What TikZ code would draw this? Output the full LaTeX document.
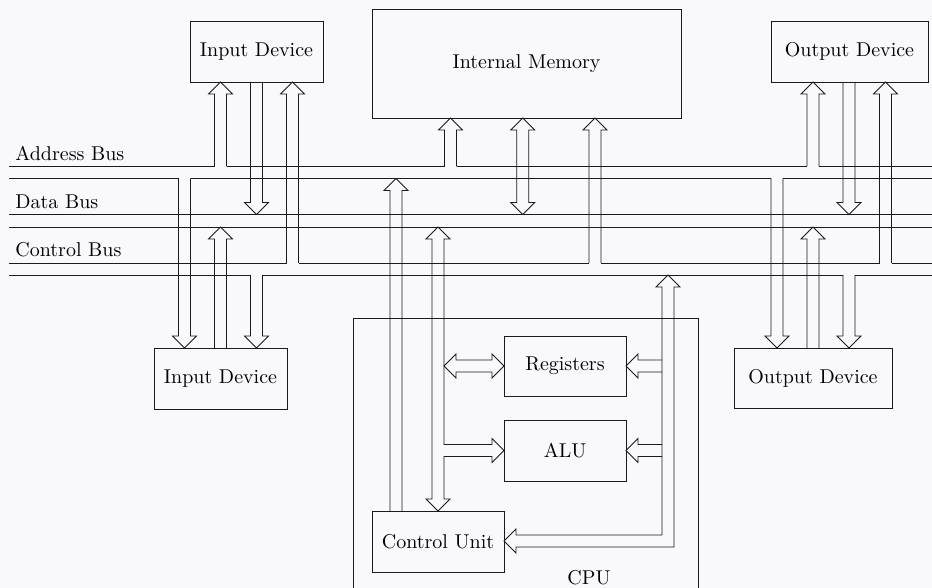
\documentclass[tikz,border=0pt]{standalone}
\usepackage{xcolor}
\definecolor{paper}{HTML}{F8F8FD}
\definecolor{linedark}{HTML}{1A1A1A}
\usepackage{tikz}
\usetikzlibrary{positioning}

% hollow arrows: x, tail y, tip y (y runs downwards)
\newcommand{\hollowup}[3]{%
  \draw (#1-6,#2) -- (#1-6,#3+12) -- (#1-12,#3+12) -- (#1,#3) -- (#1+12,#3+12) -- (#1+6,#3+12) -- (#1+6,#2);}
\newcommand{\hollowdown}[3]{%
  \draw (#1-6,#2) -- (#1-6,#3-12) -- (#1-12,#3-12) -- (#1,#3) -- (#1+12,#3-12) -- (#1+6,#3-12) -- (#1+6,#2);}

\begin{document}
\begin{tikzpicture}[x=0.5pt, y=-0.5pt, line width=0.4pt, draw=linedark,
    unit/.style={draw=linedark, inner sep=0pt, minimum height=30.5pt, fill=none},
    buslabel/.style={anchor=base west, inner sep=0pt}]
  \useasboundingbox (0,0) rectangle (932,588);
  \fill[paper] (0,0) rectangle (932,588);
  \clip (0,0) rectangle (932,588);

  % boxes
  \node[unit, minimum width=154.5pt, minimum height=54.5pt] (memory) at (526.5,63.5) {Internal Memory};
  \node[unit, minimum width=66.5pt] (inTop) at (256.5,51.5) {Input Device};
  \node[unit, minimum width=78.5pt] (outTop) at (849.5,51.5) {Output Device};
  \node[unit, minimum width=66.5pt] (inBot) at (220.5,378.5) {Input Device};
  \node[unit, minimum width=79pt, minimum height=30pt] (outBot) at (813,378) {Output Device};
  \draw (353,318) rectangle (698,640);
  \node[anchor=base, inner sep=0pt] (cpu) at (589,584) {CPU};
  \node[unit, minimum width=61pt, minimum height=30pt] (regs) at (565,366) {Registers};
  \node[unit, minimum width=61pt] (alu) at (565,450.5) {ALU};
  \node[unit, minimum width=66pt] (ctrl) at (438,541.5) {Control Unit};

  % buses
  \node[buslabel] (addrLabel) at (15,161) {Address Bus};
  \node[buslabel] (dataLabel) at (15,209) {Data Bus};
  \node[buslabel] (ctrlLabel) at (15,257) {Control Bus};
  \draw (9,166.5) -- (214.5,166.5) (226.5,166.5) -- (444.5,166.5) (456.5,166.5) -- (807,166.5) (819,166.5) -- (940,166.5);
  \draw (9,178.5) -- (178.5,178.5) (190.5,178.5) -- (771,178.5) (783,178.5) -- (940,178.5);
  \draw (9,214.5) -- (940,214.5);
  \draw (9,227) -- (940,227);
  \draw (9,263) -- (286.5,263) (298.5,263) -- (589,263) (601,263) -- (879.5,263) (891.5,263) -- (940,263);
  \draw (9,275) -- (250.5,275) (262.5,275) -- (843,275) (855,275) -- (940,275);

  % input and output devices
  \hollowup{220.5}{166.5}{82}
  \hollowdown{256.5}{82}{214.5}
  \hollowup{292.5}{263}{82}
  \hollowdown{184.5}{178.5}{348}
  \hollowup{220.5}{348}{227}
  \hollowdown{256.5}{275}{348}
  \hollowup{813}{166.5}{82}
  \hollowdown{849}{82}{214.5}
  \hollowup{885.5}{263}{82}
  \hollowdown{777}{178.5}{348}
  \hollowup{813}{348}{227}
  \hollowdown{849}{275}{348}

  % memory
  \hollowup{450.5}{166.5}{118}
  \draw (516.7,130) -- (510.7,130) -- (522.7,118) -- (534.7,130) -- (528.7,130) -- (528.7,202.5)
    -- (534.7,202.5) -- (522.7,214.5) -- (510.7,202.5) -- (516.7,202.5) -- cycle;
  \hollowup{595}{263}{118}

  % cpu
  \hollowup{396}{511}{178.5}
  \draw (432,239) -- (426,239) -- (438,227) -- (450,239) -- (444,239) -- (444,444.5) -- (492,444.5)
    -- (492,438.5) -- (504,450.5) -- (492,462.5) -- (492,456.5) -- (444,456.5) -- (444,499)
    -- (450,499) -- (438,511) -- (426,499) -- (432,499) -- cycle;
  \draw (444,366) -- (456,354) -- (456,360) -- (492,360) -- (492,354) -- (504,366) -- (492,378)
    -- (492,372) -- (456,372) -- (456,378) -- cycle;
  \draw (662,287) -- (656,287) -- (668,275) -- (680,287) -- (674,287) -- (674,547) -- (516,547)
    -- (516,553) -- (504,541) -- (516,529) -- (516,535) -- (662,535) -- cycle;
  \draw (662,360) -- (638,360) -- (638,354) -- (626,366) -- (638,378) -- (638,372) -- (662,372);
  \draw (662,444.5) -- (638,444.5) -- (638,438.5) -- (626,450.5) -- (638,462.5) -- (638,456.5) -- (662,456.5);
\end{tikzpicture}
\end{document}
